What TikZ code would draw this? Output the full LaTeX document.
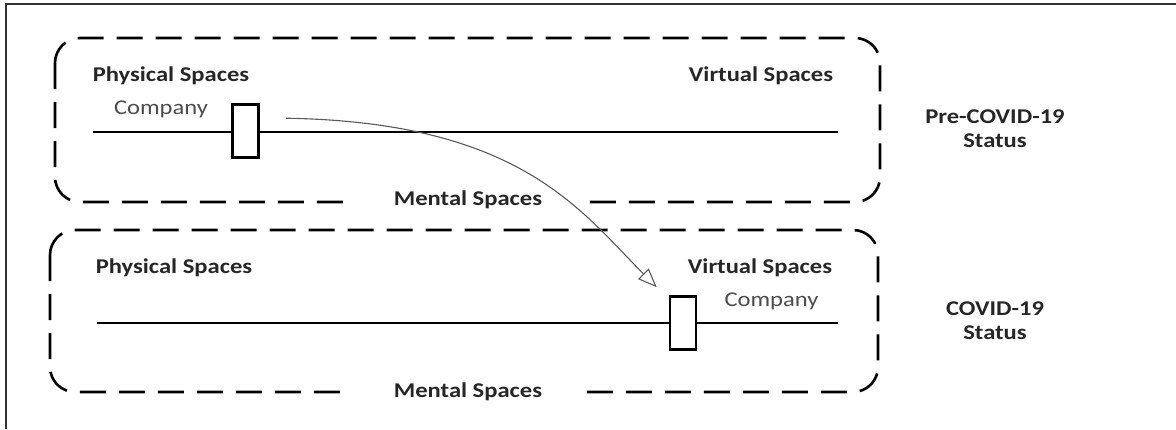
\documentclass[tikz,border=0pt]{standalone}
\usepackage{fontspec}
\setmainfont{Carlito}[FakeStretch=1.17]
\usetikzlibrary{positioning,arrows.meta,calc}

\begin{document}
\begin{tikzpicture}[
  x=1pt, y=-1pt,
  spacebox/.style={draw, line width=2.6pt, dash pattern=on 26pt off 13pt, rounded corners=25pt},
  track/.style={draw, line width=2.6pt},
  marker/.style={draw, fill=white, line width=2.6pt, minimum width=26pt, minimum height=53pt, inner sep=0pt},
  lbl/.style={font=\fontsize{21}{24}\selectfont\bfseries, text=black!85, inner sep=1pt},
  firm/.style={font=\fontsize{21}{24}\selectfont, text=black!70, inner sep=1pt},
  status/.style={lbl, align=center},
  move/.style={draw=black!65, line width=1.1pt, -{Triangle[open, length=19pt, width=15pt, line width=1.1pt]}}]

  \useasboundingbox (0,0) rectangle (1176,429);
  % frame
  \draw[line width=1.6pt, black!80] (1176,4) -- (6,4) -- (6,429);

  % pre-COVID box
  \draw[spacebox] (55,38) rectangle (880,202);
  \node[lbl] (phys1) at (171,76) {Physical Spaces};
  \node[lbl] (virt1) at (761,76) {Virtual Spaces};
  \coordinate (trk1L) at (93,132);
  \coordinate (trk1R) at (838,132);
  \draw[track] (trk1L) -- (trk1R);
  \node[marker] (firm1) at (245.5,131) {};
  \node[firm, above left=12pt and 22pt of firm1.west] (comp1) {Company};
  \node[lbl, fill=white, inner xsep=42pt] (ment1) at (468,200) {Mental Spaces};
  \node[status] (pre) at (995,129) {Pre-COVID-19\\Status};

  % COVID box
  \draw[spacebox] (50,230) rectangle (878,392);
  \node[lbl] (phys2) at (174,268) {Physical Spaces};
  \node[lbl] (virt2) at (760,268) {Virtual Spaces};
  \coordinate (trk2L) at (97,323);
  \coordinate (trk2R) at (838,323);
  \draw[track] (trk2L) -- (trk2R);
  \node[marker] (firm2) at (683,323) {};
  \node[firm, above right=12pt and 26pt of firm2.east] (comp2) {Company};
  \node[lbl, fill=white, inner xsep=42pt] (ment2) at (468,392) {Mental Spaces};
  \node[status] (cov) at (995,321) {COVID-19\\Status};

  % shift of the company
  \coordinate (from) at ($(firm1.north east)+(26,15)$);
  \coordinate (to) at ($(firm2.north west)+(-12,-8)$);
  \draw[move] (from) .. controls (520,122) and (580,210) .. (to);
\end{tikzpicture}
\end{document}
